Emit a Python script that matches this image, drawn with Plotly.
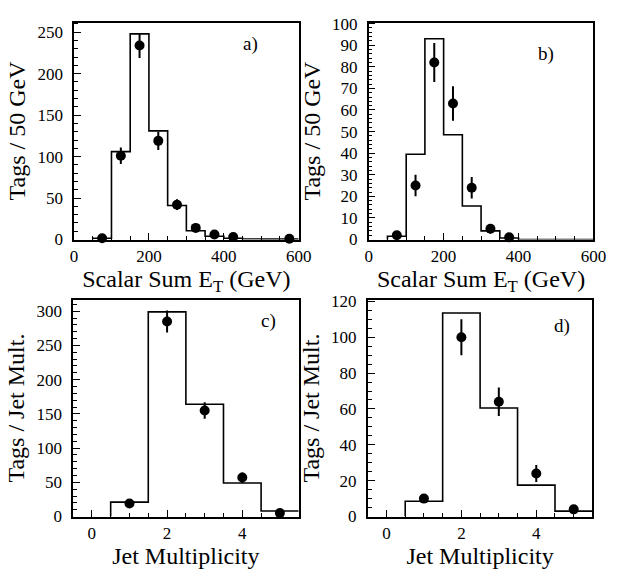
import plotly.graph_objects as go

# ---------------- data ----------------
# Panel a) Scalar Sum ET, all tags
a_edges = [50, 100, 150, 200, 250, 300, 350, 400, 450, 500, 550, 600]
a_hist = [1.5, 106, 248, 131, 41, 10.5, 4, 1.5, 0.7, 0.5, 0.5]
a_x = [75, 125, 175, 225, 275, 325, 375, 425, 575]
a_y = [1.5, 101, 234, 119, 42, 14, 6, 3, 1]
a_err = [1.2, 10, 15, 11, 6.5, 3.7, 2.4, 1.7, 1]

# Panel b) Scalar Sum ET
b_edges = [50, 100, 150, 200, 250, 300, 350, 400, 450, 500, 550, 600]
b_hist = [1.5, 39.5, 93, 48.5, 15.5, 4, 0.7, 0, 0, 0, 0]
b_x = [75, 125, 175, 225, 275, 325, 375]
b_y = [2, 25, 82, 63, 24, 5, 1]
b_err = [1.4, 5, 9, 8, 5, 2.2, 1]

# Panel c) Jet multiplicity
c_edges = [0.5, 1.5, 2.5, 3.5, 4.5, 5.5]
c_hist = [21, 299, 164, 49, 8]
c_x = [1, 2, 3, 4, 5]
c_y = [19, 285, 155, 57, 5]
c_err = [4.4, 16, 12, 7.5, 2.2]

# Panel d) Jet multiplicity
d_edges = [0.5, 1.5, 2.5, 3.5, 4.5, 5.5]
d_hist = [8.5, 113.5, 60.5, 17.5, 3]
d_x = [1, 2, 3, 4, 5]
d_y = [10, 100, 64, 24, 4]
d_err = [2.5, 10, 8, 4.7, 2]

# tick labels
et_tickvals = [0, 200, 400, 600]
jet_tickvals = [0, 2, 4]

panel_labels = ["a)", "b)", "c)", "d)"]
x_titles = ["Scalar Sum E<sub>T</sub> (GeV)", "Scalar Sum E<sub>T</sub> (GeV)",
            "Jet Multiplicity", "Jet Multiplicity"]
y_titles = ["Tags / 50 GeV", "Tags / 50 GeV", "Tags / Jet Mult.", "Tags / Jet Mult."]

# ---------------- figure ----------------
W, H = 621, 574
FONT = "Liberation Serif"

panels = [
    dict(edges=a_edges, hist=a_hist, x=a_x, y=a_y, err=a_err,
         px=(72, 303), py=(15, 239), xr=[0, 600], yr=[0, 261.7],
         tv=et_tickvals, xm=50, yd=50, ym=10, lab=(0.785, 0.9)),
    dict(edges=b_edges, hist=b_hist, x=b_x, y=b_y, err=b_err,
         px=(375, 606), py=(15, 239), xr=[0, 600], yr=[0, 100.5],
         tv=et_tickvals, xm=50, yd=10, ym=2, lab=(0.79, 0.855)),
    dict(edges=c_edges, hist=c_hist, x=c_x, y=c_y, err=c_err,
         px=(71, 303), py=(301, 525), xr=[-0.5, 5.5], yr=[0, 317],
         tv=jet_tickvals, xm=0.5, yd=50, ym=10, lab=(0.865, 0.9)),
    dict(edges=d_edges, hist=d_hist, x=d_x, y=d_y, err=d_err,
         px=(374, 605), py=(301, 525), xr=[-0.5, 5.5], yr=[0, 121],
         tv=jet_tickvals, xm=0.5, yd=20, ym=5, lab=(0.863, 0.88)),
]

fig = go.Figure()
layout = dict(width=W, height=H, margin=dict(l=0, r=0, t=0, b=0),
              paper_bgcolor="white", plot_bgcolor="white", showlegend=False,
              font=dict(family=FONT, color="black"))
annotations = []

for i, p in enumerate(panels):
    n = "" if i == 0 else str(i + 1)
    xa, ya = "x" + n, "y" + n
    hx = list(p["edges"])
    hy = list(p["hist"]) + [p["hist"][-1]]
    hx = [hx[0]] + hx
    hy = [0] + hy
    fig.add_trace(go.Scatter(x=hx, y=hy, mode="lines", line=dict(shape="hv", color="black", width=1.6),
                             xaxis=xa, yaxis=ya, hoverinfo="skip"))
    fig.add_trace(go.Scatter(x=p["x"], y=p["y"], mode="markers",
                             marker=dict(color="black", size=10),
                             error_y=dict(type="data", array=p["err"], color="black", thickness=2, width=0),
                             xaxis=xa, yaxis=ya, cliponaxis=False))
    x0, x1 = p["px"][0] / W, p["px"][1] / W
    y0, y1 = 1 - p["py"][1] / H, 1 - p["py"][0] / H
    common = dict(showgrid=False, zeroline=False, showline=True, mirror=True,
                  linecolor="black", linewidth=1.5, ticks="inside", tickcolor="black",
                  ticklen=7, tickwidth=1.2, tickfont=dict(family=FONT, size=17, color="black"))
    layout["xaxis" + n] = dict(common, domain=[x0, x1], range=p["xr"],
                               tickmode="array", tickvals=p["tv"],
                               anchor=ya,
                               minor=dict(dtick=p["xm"], tick0=0, ticks="inside", ticklen=4,
                                          tickcolor="black", tickwidth=1.2),
                               title=dict(text=x_titles[i], font=dict(family=FONT, size=24, color="black"),
                                          standoff=3))
    layout["yaxis" + n] = dict(common, domain=[y0, y1], range=p["yr"], dtick=p["yd"], tick0=0,
                               anchor=xa, ticklabelstandoff=6,
                               minor=dict(dtick=p["ym"], tick0=0, ticks="inside", ticklen=4,
                                          tickcolor="black", tickwidth=1.2),
                               title=dict(text=y_titles[i], font=dict(family=FONT, size=24, color="black"),
                                          standoff=5))
    annotations.append(dict(text=panel_labels[i], xref=xa + " domain", yref=ya + " domain",
                            x=p["lab"][0], y=p["lab"][1], xanchor="center", yanchor="middle",
                            showarrow=False, font=dict(family=FONT, size=19, color="black")))

layout["annotations"] = annotations
fig.update_layout(**layout)
fig.write_html("out.html")
